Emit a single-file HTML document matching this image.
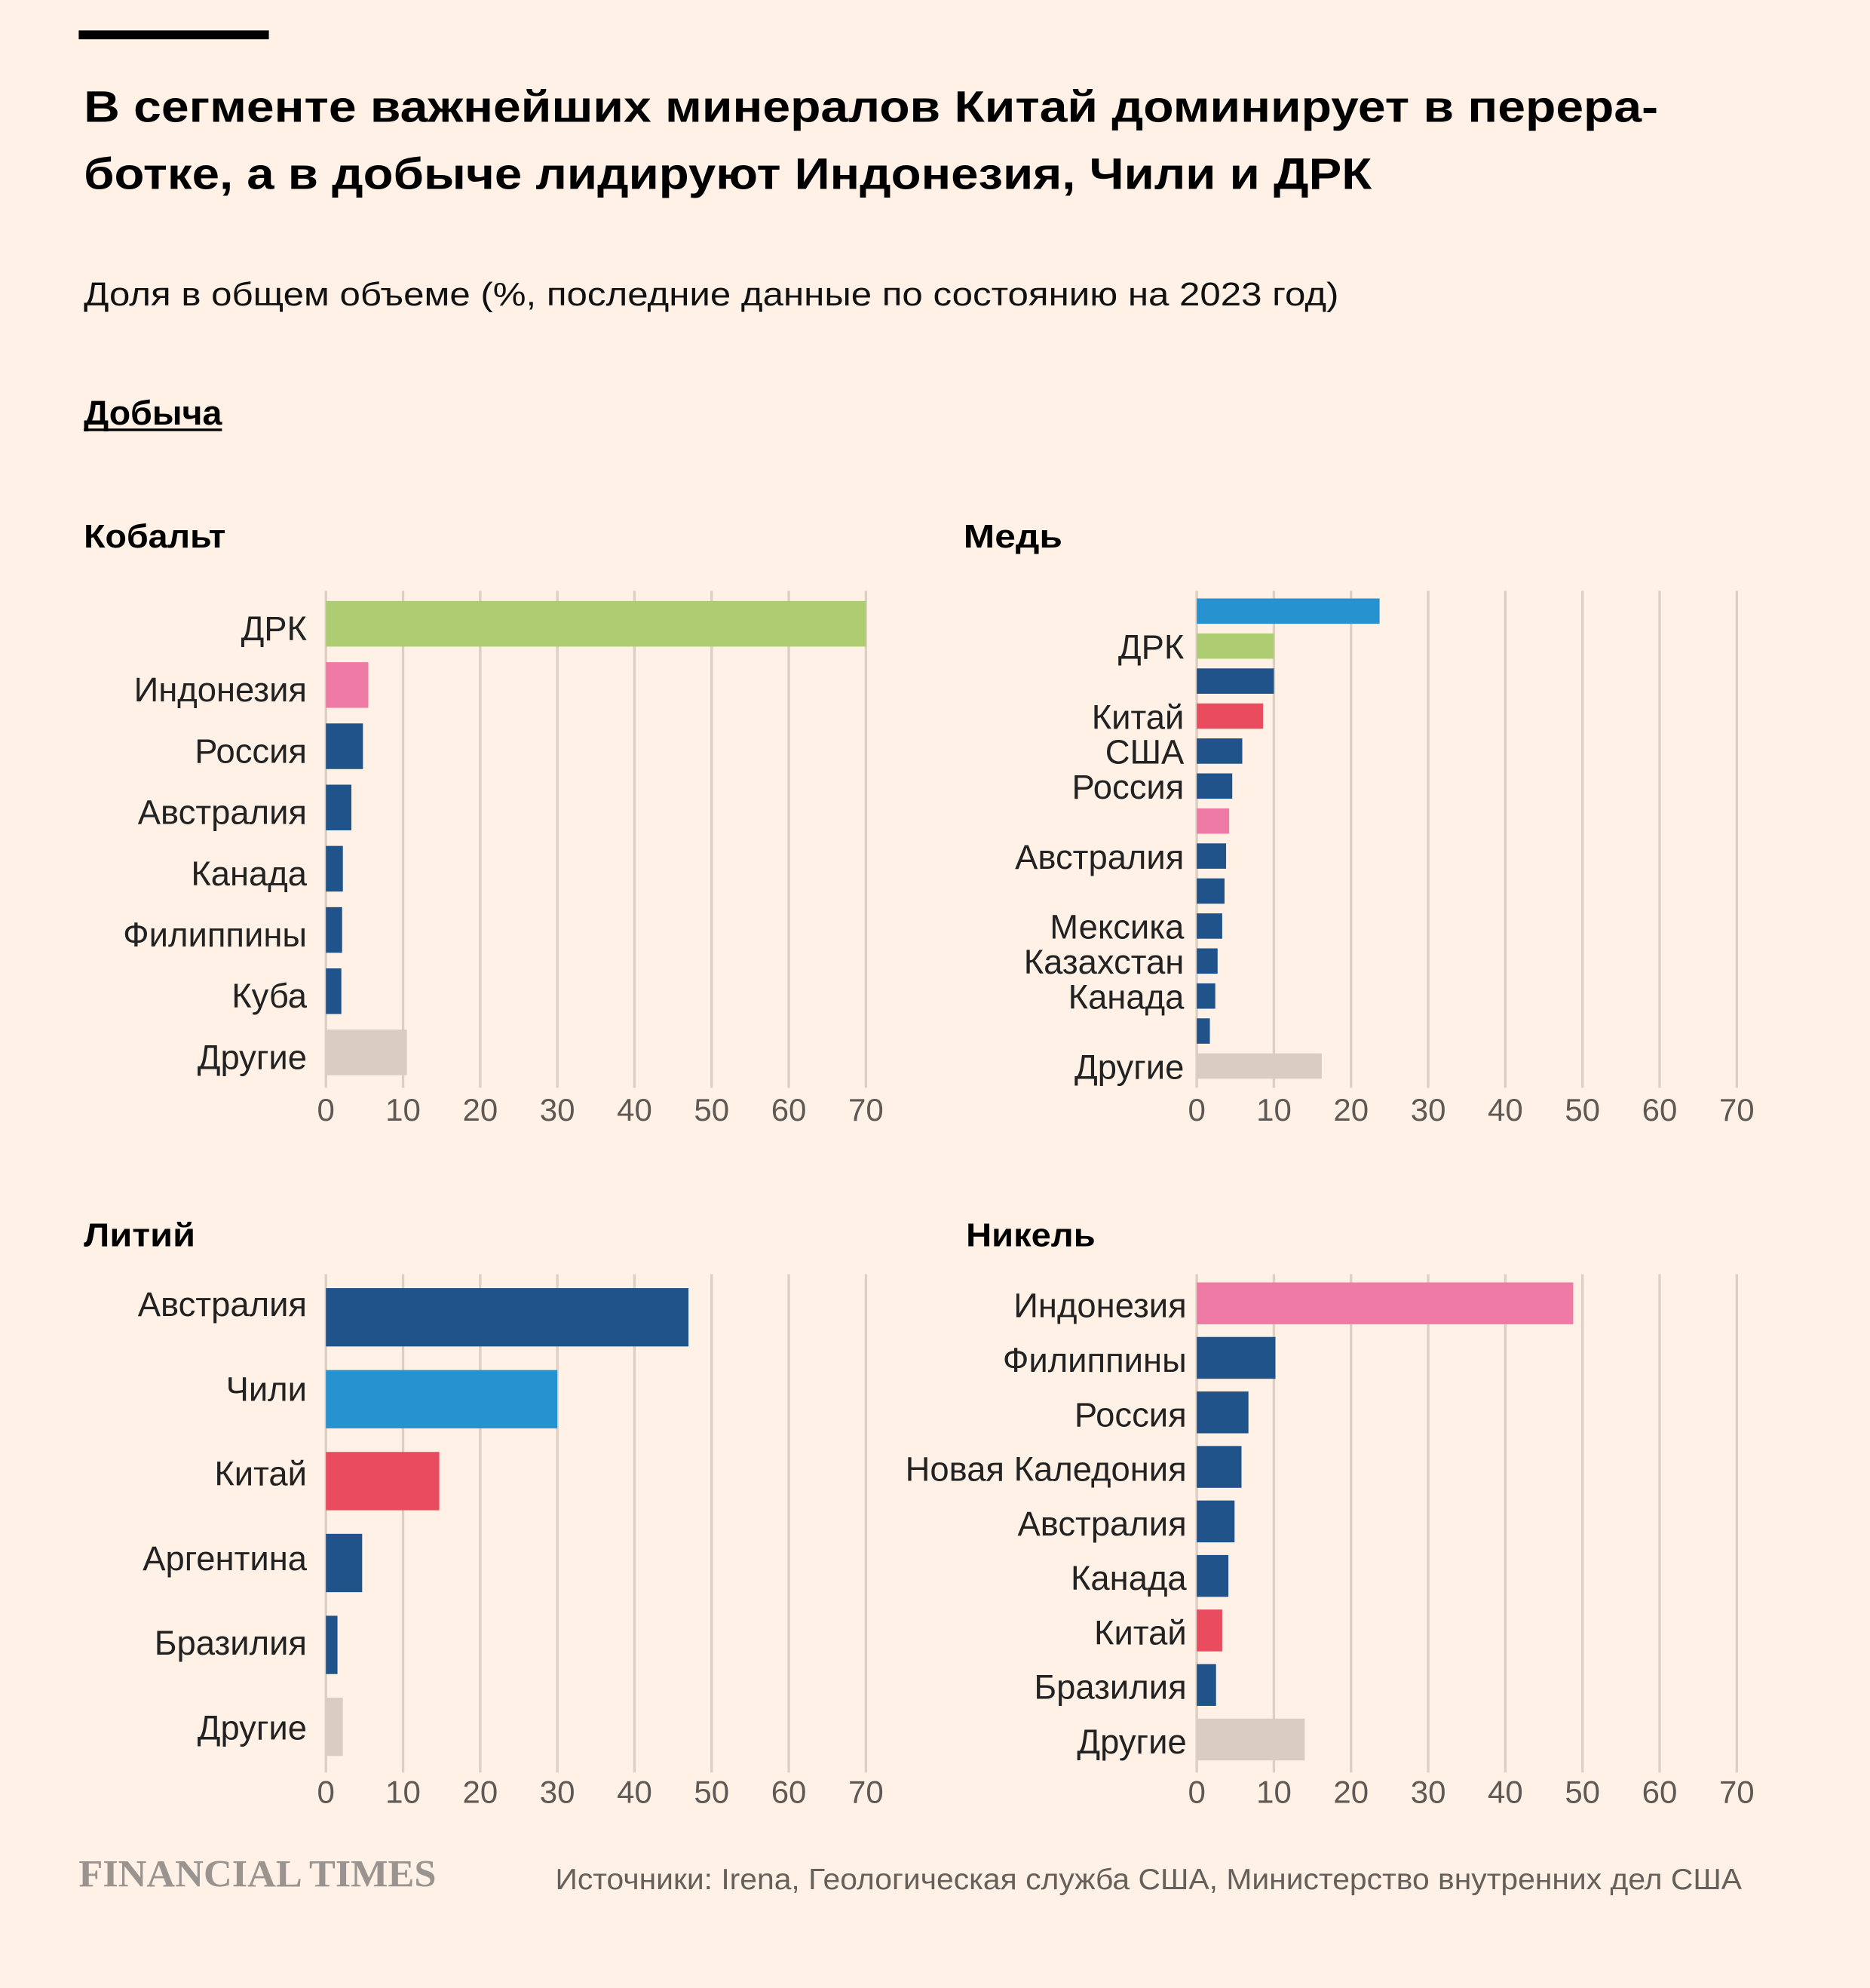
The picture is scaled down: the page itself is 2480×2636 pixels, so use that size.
<!DOCTYPE html>
<html><head><meta charset="utf-8"><style>
html,body{margin:0;padding:0;background:#fff1e5;}
svg{display:block;font-family:"Liberation Sans",sans-serif;}
</style></head><body>
<svg id="c" width="2480" height="2636" viewBox="0 0 1475 1568" xmlns="http://www.w3.org/2000/svg">
<rect width="1475" height="1568" fill="#fff1e5"/>
<rect x="62" y="24" width="150" height="7" fill="#000"/>
<text x="66" y="96" font-size="35" font-weight="bold" textLength="1242" lengthAdjust="spacingAndGlyphs">В сегменте важнейших минералов Китай доминирует в перера-</text>
<text x="66" y="149" font-size="35" font-weight="bold" textLength="1016" lengthAdjust="spacingAndGlyphs">ботке, а в добыче лидируют Индонезия, Чили и ДРК</text>
<text x="66" y="241" font-size="26" fill="#111" textLength="990" lengthAdjust="spacingAndGlyphs">Доля в общем объеме (%, последние данные по состоянию на 2023 год)</text>
<text x="66" y="335" font-size="27" font-weight="bold" textLength="109" lengthAdjust="spacingAndGlyphs">Добыча</text>
<line x1="66" y1="339" x2="175" y2="339" stroke="#000" stroke-width="2"/>
<text x="66" y="432" font-size="26" font-weight="bold" textLength="112" lengthAdjust="spacingAndGlyphs">Кобальт</text>
<text x="760" y="432" font-size="26" font-weight="bold" textLength="78" lengthAdjust="spacingAndGlyphs">Медь</text>
<text x="66" y="983" font-size="26" font-weight="bold" textLength="88" lengthAdjust="spacingAndGlyphs">Литий</text>
<text x="762" y="983" font-size="26" font-weight="bold" textLength="102" lengthAdjust="spacingAndGlyphs">Никель</text>
<text x="62" y="1488" font-size="30" font-family="Liberation Serif,serif" font-weight="bold" fill="#9a9490" textLength="282" lengthAdjust="spacingAndGlyphs">FINANCIAL TIMES</text>
<text x="438" y="1490" font-size="23" fill="#66605b" textLength="936" lengthAdjust="spacingAndGlyphs">Источники: Irena, Геологическая служба США, Министерство внутренних дел США</text>
<g id="charts"></g>
</svg>
<script>
const ticks=[0,10,20,30,40,50,60,70];
const cobaltCats=["ДРК","Индонезия","Россия","Австралия","Канада","Филиппины","Куба","Другие"];
const cobaltVals=[70,5.5,4.8,3.3,2.2,2.1,2.0,10.5];
const cobaltCols=["g","p","d","d","d","d","d","o"];
const copperCats=["","ДРК","","Китай","США","Россия","","Австралия","","Мексика","Казахстан","Канада","","Другие"];
const copperVals=[23.7,10,10,8.6,5.9,4.6,4.2,3.8,3.6,3.3,2.7,2.4,1.7,16.2];
const copperCols=["b","g","d","r","d","d","p","d","d","d","d","d","d","o"];
const lithiumCats=["Австралия","Чили","Китай","Аргентина","Бразилия","Другие"];
const lithiumVals=[47,30,14.7,4.7,1.5,2.2];
const lithiumCols=["d","b","r","d","d","o"];
const nickelCats=["Индонезия","Филиппины","Россия","Новая Каледония","Австралия","Канада","Китай","Бразилия","Другие"];
const nickelVals=[48.8,10.2,6.7,5.8,4.9,4.1,3.3,2.5,14];
const nickelCols=["p","d","d","d","d","d","r","d","o"];
const palette={d:"#21538b",b:"#2692d0",g:"#aecd72",p:"#ef7aa6",r:"#e84c5e",o:"#d9cdc3"};
const NS="http://www.w3.org/2000/svg";
const root=document.getElementById('charts');
function mk(t,a,p){const e=document.createElementNS(NS,t);for(const k in a)e.setAttribute(k,a[k]);p.appendChild(e);return e;}
function chart(name,cats,vals,cols,x0,gy0,gy1,c0,step,bh,tickY,labX,dy,ddy){
  const sx=v=>x0+v*(426/70);
  const g=mk('g',{},root);
  
  
  ticks.forEach(t=>{
    const l=mk('line',{x1:sx(t),x2:sx(t),y1:gy0,y2:gy1,stroke:'#dccfc3','stroke-width':2},g);
    
    
    const tx=mk('text',{x:sx(t),y:tickY,'font-size':25,fill:'#5e5955','text-anchor':'middle'},g);
    tx.textContent=t;
    
    
  });
  cats.forEach((c,i)=>{
    const cy=c0+i*step;
    const r=mk('rect',{x:sx(0),y:cy-bh/2,width:sx(vals[i])-sx(0),height:bh,fill:palette[cols[i]]},g);
    
    
    if(c){
      const t=mk('text',{x:labX,y:cy+dy+i*ddy,'font-size':27,fill:'#222','text-anchor':'end'},g);
      t.textContent=c;
      
      
    }
  });
}
chart('cobalt',cobaltCats,cobaltVals,cobaltCols,257,466,858,492,48.3,36,884,242,13,0);
chart('copper',copperCats,copperVals,copperCols,944,466,858,482,27.6,20,884,934,10,0);
chart('lithium',lithiumCats,lithiumVals,lithiumCols,257,1005,1398,1039,64.6,46,1422,242,-1,2.2);
chart('nickel',nickelCats,nickelVals,nickelCols,944,1005,1398,1028,43,33,1422,936,11,0);
</script>
</body></html>
